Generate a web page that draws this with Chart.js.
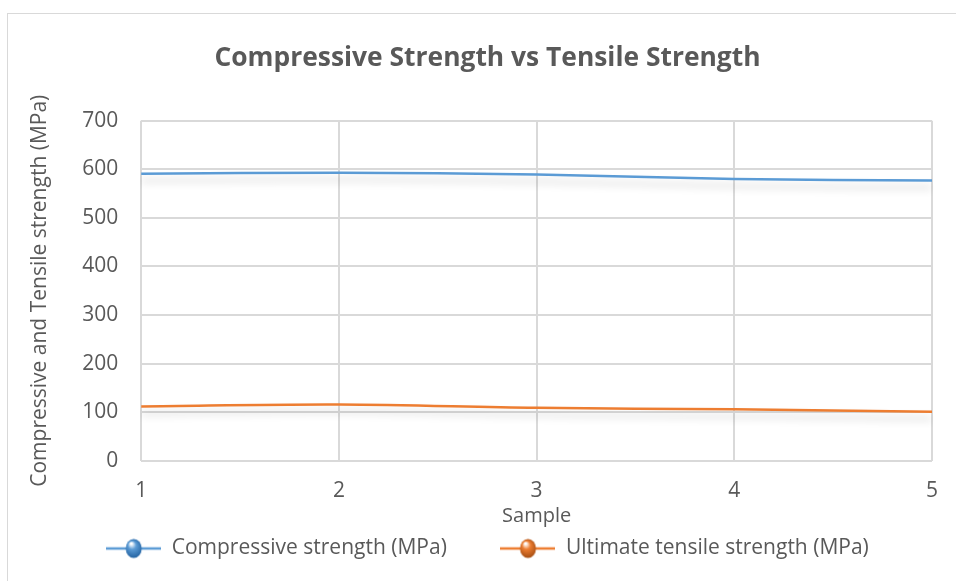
<!DOCTYPE html>
<html>
<head>
<meta charset="utf-8">
<script src="https://cdn.jsdelivr.net/npm/chart.js@4/dist/chart.umd.min.js"></script>
<style>
  html, body { margin: 0; padding: 0; background: #fff; }
  body { width: 956px; height: 581px; overflow: hidden; position: relative; }
  #frame { position: absolute; left: 7px; top: 13px; width: 1000px; height: 600px;
           border-left: 1px solid #d9d9d9; border-top: 1px solid #d9d9d9; }
  #wrap { position: absolute; left: 0; top: 0; width: 956px; height: 581px; }
</style>
</head>
<body>
<div id="frame"></div>
<div id="wrap"><canvas id="myChart"></canvas></div>
<script>
const samples = ["1", "2", "3", "4", "5"];
const compressive = [591, 593, 589, 580, 577];
const tensile = [112, 116, 109, 106, 101];
const seriesNames = ["Compressive strength (MPa)", "Ultimate tensile strength (MPa)"];

const FONT = "'Open Sans', 'Liberation Sans', sans-serif";
const blue = "#5b9bd5";
const orange = "#ed7d31";

// line + shiny ball used as the legend marker
function legendIcon(color, dark) {
    const c = document.createElement("canvas");
    c.width = 55; c.height = 22;
    const g = c.getContext("2d");
    g.strokeStyle = color;
    g.lineWidth = 2.5;
    g.beginPath(); g.moveTo(0, 11); g.lineTo(55, 11); g.stroke();
    const grad = g.createRadialGradient(25, 6, 1, 27.5, 11, 10);
    grad.addColorStop(0, "#ffffff");
    grad.addColorStop(0.35, color);
    grad.addColorStop(1, dark);
    g.fillStyle = grad;
    g.beginPath(); g.ellipse(27.5, 11, 8, 9.5, 0, 0, Math.PI * 2); g.fill();
    return c;
}

const shadowPlugin = {
    id: "lineShadow",
    beforeDatasetDraw(chart) {
        const ctx = chart.ctx;
        ctx.save();
        ctx.shadowColor = "rgba(0,0,0,0.2)";
        ctx.shadowBlur = 8;
        ctx.shadowOffsetY = 7;
    },
    afterDatasetDraw(chart) {
        chart.ctx.restore();
    }
};

const ctx = document.getElementById("myChart").getContext("2d");
new Chart(ctx, {
    type: "line",
    data: {
        labels: samples,
        datasets: [{
            label: seriesNames[0],
            data: compressive,
            borderColor: blue,
            borderWidth: 2.5,
            pointRadius: 0,
            tension: 0.35,
            fill: false,
            pointStyle: legendIcon(blue, "#1f5f9e")
        }, {
            label: seriesNames[1],
            data: tensile,
            borderColor: orange,
            borderWidth: 2.5,
            pointRadius: 0,
            tension: 0.35,
            fill: false,
            pointStyle: legendIcon(orange, "#a04a10")
        }]
    },
    plugins: [shadowPlugin],
    options: {
        responsive: true,
        maintainAspectRatio: false,
        animation: false,
        layout: { padding: { left: 42, right: 23, top: 0, bottom: 12 } },
        plugins: {
            title: {
                display: true,
                text: "Compressive Strength vs Tensile Strength",
                color: "#595959",
                font: { family: FONT, size: 26.4, weight: "bold" },
                padding: { top: 43, bottom: 46 }
            },
            legend: {
                display: true,
                position: "bottom",
                labels: {
                    usePointStyle: true,
                    pointStyleWidth: 55,
                    color: "#595959",
                    font: { family: FONT, size: 21 },
                    padding: 10,
                    generateLabels(chart) {
                        const items = Chart.defaults.plugins.legend.labels.generateLabels(chart);
                        // widen the gap between the two entries
                        items[0].text = items[0].text + "        ";
                        return items;
                    }
                }
            },
            tooltip: { enabled: false }
        },
        scales: {
            x: {
                offset: false,
                grid: { color: "#d9d9d9", lineWidth: 2, drawTicks: false },
                border: { display: false },
                ticks: { color: "#595959", font: { family: FONT, size: 21 }, padding: 18, maxRotation: 0 },
                title: {
                    display: true, text: "Sample", color: "#595959",
                    font: { family: FONT, size: 20 }, padding: { top: -18, bottom: 0 }
                }
            },
            y: {
                min: 0, max: 700,
                grid: { color: "#d9d9d9", lineWidth: 2, drawTicks: false },
                border: { display: false },
                ticks: { stepSize: 100, color: "#595959", font: { family: FONT, size: 21 }, padding: 23 },
                title: {
                    display: true, text: "Compressive and Tensile strength (MPa)", color: "#595959",
                    font: { family: FONT, size: 21 }, padding: { top: -15, bottom: 7 }
                }
            }
        }
    }
});
</script>
</body>
</html>
